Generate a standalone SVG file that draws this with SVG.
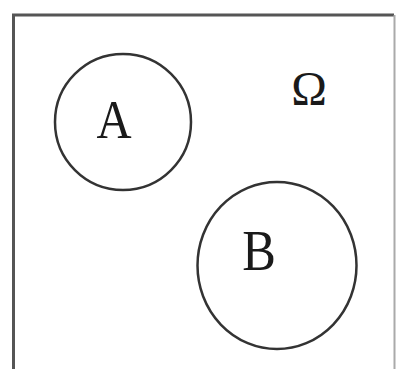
<svg xmlns="http://www.w3.org/2000/svg" width="397" height="369" viewBox="0 0 397 369">
<style>
.edge{stroke:#555;stroke-width:3;fill:none}
.set{stroke:#333;stroke-width:2.5;fill:none}
.lbl{font-family:"Liberation Serif","Times New Roman",serif;fill:#1a1a1a;text-anchor:middle}
</style>
<rect width="397" height="369" fill="#fff"/>
<g id="universe">
<path class="edge" d="M13.5,372 L13.5,15 L394,15"/>
<line x1="394.5" y1="15" x2="394.5" y2="372" stroke="#aaa" stroke-width="2"/>
<text class="lbl" font-size="48" transform="translate(309,105)">Ω</text>
</g>
<g id="A">
<ellipse class="set" cx="123" cy="122" rx="68" ry="68"/>
<text class="lbl" font-size="54" transform="translate(114,138) scale(0.9,1)">A</text>
</g>
<g id="B">
<ellipse class="set" cx="277" cy="265.5" rx="79.5" ry="83.5"/>
<text class="lbl" font-size="56" transform="translate(259,270) scale(0.9,1)">B</text>
</g>
</svg>
